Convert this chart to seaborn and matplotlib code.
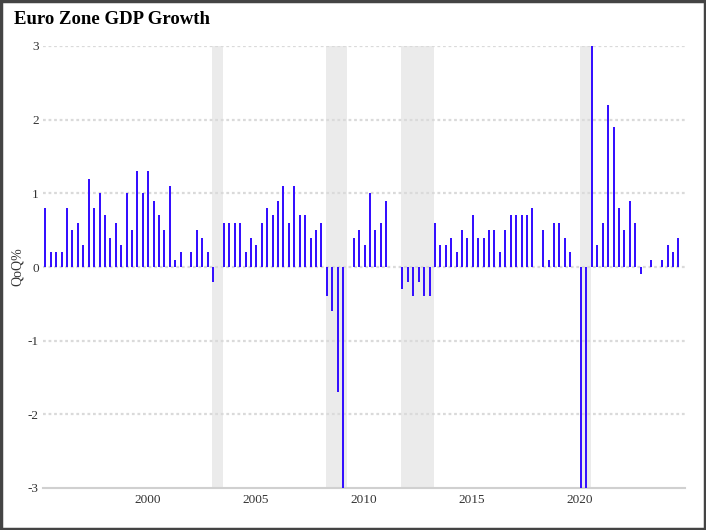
import numpy as np
import pandas as pd
import matplotlib.pyplot as plt
from matplotlib.patches import Rectangle
import seaborn as sns

# Quarterly GDP growth (QoQ %), 1995 Q2 .. 2024 Q3
first_quarter = "1995Q2"
growth = [
    0.8, 0.2, 0.2, 0.2, 0.8, 0.5, 0.6, 0.3, 1.2, 0.8,
    1.0, 0.7, 0.4, 0.6, 0.3, 1.0, 0.5, 1.3, 1.0, 1.3,
    0.9, 0.7, 0.5, 1.1, 0.1, 0.2, 0.0, 0.2, 0.5, 0.4,
    0.2, -0.2, 0.0, 0.6, 0.6, 0.6, 0.6, 0.2, 0.4, 0.3,
    0.6, 0.8, 0.7, 0.9, 1.1, 0.6, 1.1, 0.7, 0.7, 0.4,
    0.5, 0.6, -0.4, -0.6, -1.7, -3.1, 0.0, 0.4, 0.5, 0.3,
    1.0, 0.5, 0.6, 0.9, 0.0, 0.0, -0.3, -0.2, -0.4, -0.2,
    -0.4, -0.4, 0.6, 0.3, 0.3, 0.4, 0.2, 0.5, 0.4, 0.7,
    0.4, 0.4, 0.5, 0.5, 0.2, 0.5, 0.7, 0.7, 0.7, 0.7,
    0.8, 0.0, 0.5, 0.1, 0.6, 0.6, 0.4, 0.2, 0.0, -3.6,
    -11.4, 12.4, 0.3, 0.6, 2.2, 1.9, 0.8, 0.5, 0.9, 0.6,
    -0.1, 0.0, 0.1, 0.0, 0.1, 0.3, 0.2, 0.4,
]

# Recession periods (decimal years)
recession_start = [2003.0, 2008.25, 2011.75, 2020.0]
recession_end = [2003.5, 2009.25, 2013.25, 2020.5]

year_ticks = [2000, 2005, 2010, 2015, 2020]
y_ticks = [-3, -2, -1, 0, 1, 2, 3]

quarters = pd.period_range(first_quarter, periods=len(growth), freq="Q")
df = pd.DataFrame({
    "date": quarters.year + (quarters.quarter - 1) / 4,
    "growth": growth,
})

sns.set_theme(style="white")
plt.rcParams["font.family"] = ["Liberation Serif", "DejaVu Serif"]

fig = plt.figure(figsize=(7.06, 5.30), dpi=100)
ax = fig.add_axes([43 / 706, 1 - 488 / 530, 642 / 706, 442 / 530])

sns.barplot(data=df, x="date", y="growth", native_scale=True, width=0.37,
            color="#3510ff", saturation=1, errorbar=None, linewidth=0,
            edgecolor="none", ax=ax, zorder=3)
# bars start at the quarter date (left-aligned), snapped to pixels
for p in list(ax.patches):
    p.set_x(p.get_x() + p.get_width() / 2)
    p.set_snap(True)

# recession shading
for s, e in zip(recession_start, recession_end):
    ax.axvspan(s, e, color="#ebebeb", lw=0, zorder=0)

# dotted gridlines
for t in y_ticks[1:]:
    ax.axhline(t, color="#dadada", lw=1.6, ls=(0, (1.25, 1.25)), zorder=1)

ax.set_xlim(1995.185, 2024.85)
ax.set_ylim(-3, 3)
ax.set_xticks(year_ticks)
ax.set_xticklabels([str(y) for y in year_ticks])
ax.set_yticks(y_ticks)
ax.set_yticklabels([str(t) for t in y_ticks])
ax.tick_params(axis="both", length=0, labelsize=9.5, colors="#333333")
ax.tick_params(axis="x", pad=4)
ax.tick_params(axis="y", pad=3)
ax.set_xlabel("")
ax.set_ylabel("QoQ%", fontsize=10, color="#333333", labelpad=3)

for side in ["top", "right", "left"]:
    ax.spines[side].set_visible(False)
ax.spines["bottom"].set_color("#d0d0d0")
ax.spines["bottom"].set_linewidth(1.5)

fig.text(14 / 706, 1 - 20 / 530, "Euro Zone GDP Growth", fontsize=13.5,
         fontweight="bold", color="black", va="center", ha="left")

# outer frame
fig.patches.append(Rectangle((0.001, 0.001), 0.997, 0.997, transform=fig.transFigure,
                             fill=False, edgecolor="#444444", lw=2.5))

fig.savefig("out.png", dpi=100)
